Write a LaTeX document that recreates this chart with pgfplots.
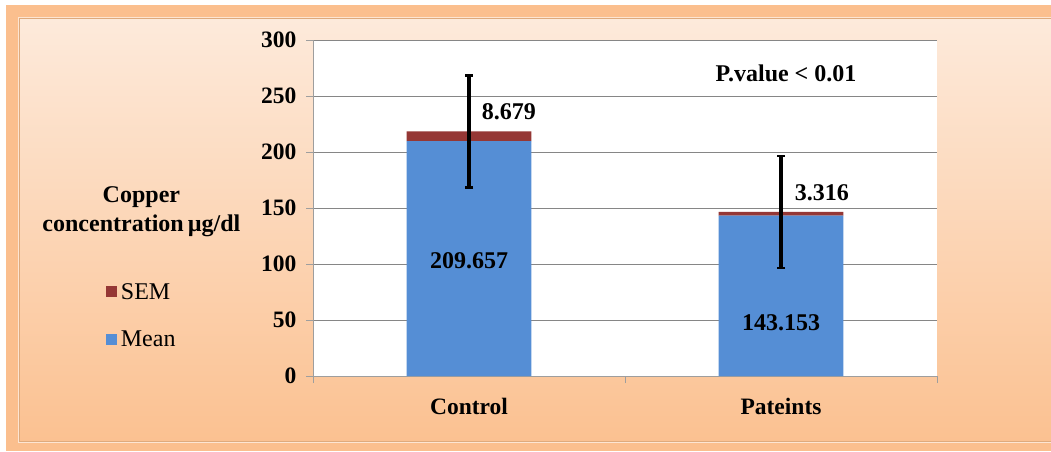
\documentclass[border=0pt]{standalone}
\usepackage{pgfplots}
\pgfplotsset{compat=1.18}
\usepackage{pgfplotstable}
\usepackage{fontspec}
\setmainfont{Liberation Serif}
\definecolor{meanblue}{RGB}{85,142,213}
\definecolor{semred}{RGB}{149,55,53}
\definecolor{framecol}{RGB}{251,191,142}
\definecolor{toppeach}{RGB}{253,234,219}
\definecolor{botpeach}{RGB}{251,193,145}
\definecolor{gridgray}{RGB}{134,134,134}

\pgfplotstableread{
x mean sem
0 209.657 8.679
1 143.153 3.316
}\bars
\pgfplotstableread{
x tot err
0 218.336 50
1 146.469 50
}\errs

\begin{document}
\begin{tikzpicture}
\useasboundingbox (0,0) rectangle (1051pt,451pt);
% background
\fill[white] (0,0) rectangle (1051pt,451pt);
\fill[framecol] (6pt,0pt) rectangle (1051pt,446pt);
\fill[white!60!framecol] (18pt,8pt) rectangle (1051pt,434pt);
\shade[top color=toppeach, bottom color=botpeach, draw={rgb,255:red,222;green,170;blue,125}, line width=0.8pt]
  (19.5pt,9.5pt) rectangle (1052pt,432.5pt);

\begin{axis}[
  at={(313pt,75pt)}, anchor=south west,
  scale only axis, width=624pt, height=336pt,
  ybar stacked, bar width=0.4,
  xmin=-0.5, xmax=1.5, ymin=0, ymax=300,
  ytick={0,50,...,300},
  xtick={-0.5,0.5,1.5}, xticklabels={},
  extra x ticks={0,1}, extra x tick labels={Control,Pateints},
  extra x tick style={major tick length=0pt, grid=none},
  axis x line*=bottom, axis y line*=left,
  axis line style={draw=gridgray!80, line width=0.8pt},
  tick style={draw=gridgray!80, line width=0.8pt},
  major tick length=7pt, tick align=outside,
  ymajorgrids, grid style={draw=gridgray, line width=0.8pt},
  axis background/.style={fill=white},
  ticklabel style={font=\fontsize{23.5}{26}\selectfont\bfseries},
  /pgf/number format/assume math mode=true,
  yticklabel style={xshift=-6pt},
  xticklabel style={yshift=-19pt},
  reverse legend,
  legend style={draw=none, fill=none, at={(-0.337,0.18)}, anchor=west,
    font=\fontsize{24}{27}\selectfont, row sep=26pt},
  legend cell align=left,
  legend image code/.code={\fill[#1] (0pt,-5.5pt) rectangle (11pt,5.5pt);},
  legend style={nodes={inner xsep=4pt}},
  clip=false,
]
\addplot[fill=meanblue, draw=none] table[x=x, y=mean] {\bars};
\addlegendentry{Mean}
\addplot[fill=semred, draw=none] table[x=x, y=sem] {\bars};
\addlegendentry{SEM}
\end{axis}

\begin{axis}[
  at={(313pt,75pt)}, anchor=south west,
  scale only axis, width=624pt, height=336pt,
  xmin=-0.5, xmax=1.5, ymin=0, ymax=300,
  hide axis, clip=false,
]
\addplot[draw=none, mark=none,
  error bars/.cd, y dir=both, y explicit,
  error bar style={draw=black, line width=3.4pt},
  error mark options={draw=black, rotate=90, mark size=4pt, line width=2.4pt}]
  table[x=x, y=tot, y error=err] {\errs};
\node[font=\fontsize{24}{27}\selectfont\bfseries] at (axis cs:0,103) {209.657};
\node[font=\fontsize{24}{27}\selectfont\bfseries] at (axis cs:1,47.3) {143.153};
\node[font=\fontsize{24}{27}\selectfont\bfseries] at (axis cs:0.128,235.7) {8.679};
\node[font=\fontsize{24}{27}\selectfont\bfseries] at (axis cs:1.131,163.4) {3.316};
\node[font=\fontsize{24}{27}\selectfont\bfseries] at (axis cs:1.016,270.5) {P.value < 0.01};
\node[font=\fontsize{24}{29}\selectfont\bfseries, align=center] at (axis description cs:-0.275,0.49)
  {Copper\\concentration\,µg/dl};
\end{axis}
\end{tikzpicture}
\end{document}
